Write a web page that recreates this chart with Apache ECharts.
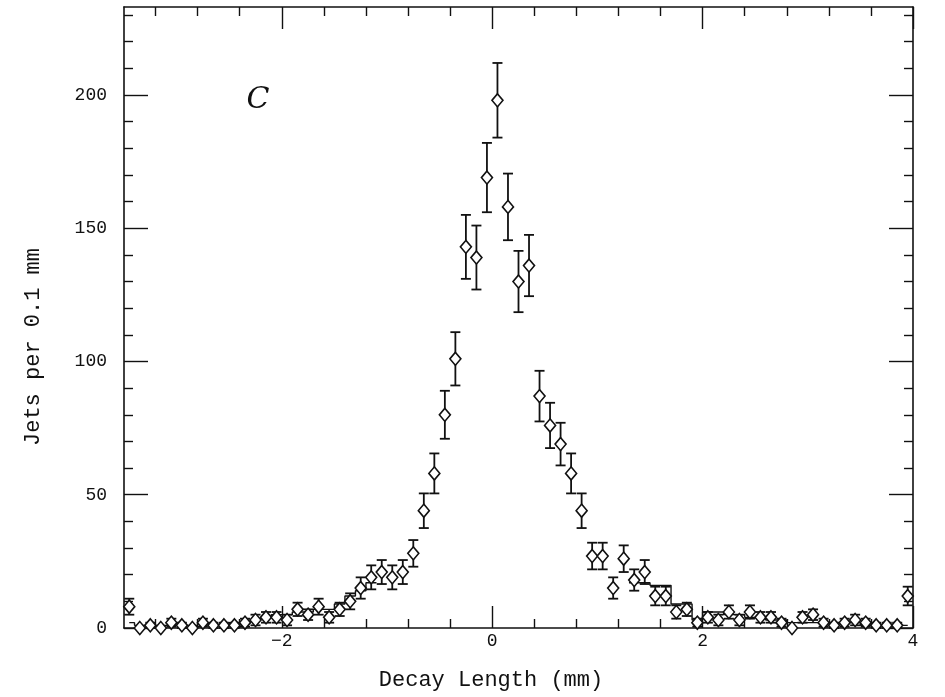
<!DOCTYPE html>
<html>
<head>
<meta charset="utf-8">
<script src="https://cdn.jsdelivr.net/npm/echarts@6/dist/echarts.min.js"></script>
<style>
html,body{margin:0;padding:0;background:#fff;}
#chart{width:945px;height:697px;}
</style>
</head>
<body>
<div id="chart"></div>
<script>
// Bin centres (mm)
const binCenters = [
 -3.45,-3.35,-3.25,-3.15,-3.05,-2.95,-2.85,-2.75,-2.65,-2.55,
 -2.45,-2.35,-2.25,-2.15,-2.05,-1.95,-1.85,-1.75,-1.65,-1.55,
 -1.45,-1.35,-1.25,-1.15,-1.05,-0.95,-0.85,-0.75,-0.65,-0.55,
 -0.45,-0.35,-0.25,-0.15,-0.05,0.05,0.15,0.25,0.35,0.45,
 0.55,0.65,0.75,0.85,0.95,1.05,1.15,1.25,1.35,1.45,
 1.55,1.65,1.75,1.85,1.95,2.05,2.15,2.25,2.35,2.45,
 2.55,2.65,2.75,2.85,2.95,3.05,3.15,3.25,3.35,3.45,
 3.55,3.65,3.75,3.85,3.95
];
// Jets per 0.1 mm (data points)
const jetCounts = [
 8,0,1,0,2,1,0,2,1,1,
 1,2,3,4,4,3,7,5,8,4,
 7,10,15,19,21,19,21,28,44,58,
 80,101,143,139,169,198,158,130,136,87,
 76,69,58,44,27,27,15,26,18,21,
 12,12,6,7,2,4,3,6,3,6,
 4,4,2,0,4,5,2,1,2,3,
 2,1,1,1,12
];
// Error bar half-lengths
const jetErrors = [
 3,0,1,0,1.5,1,0,1.5,1,1,
 1,1.5,2,2,2,2,2.5,2,3,2,
 2.5,3,4,4.5,4.5,4.5,4.5,5,6.5,7.5,
 9,10,12,12,13,14,12.5,11.5,11.5,9.5,
 8.5,8,7.5,6.5,5,5,4,5,4,4.5,
 3.5,3.5,2.5,2.5,1.5,2,2,2.5,2,2.5,
 2,2,1.5,0,2,2,1.5,1,1.5,2,
 1.5,1,1,1,3.5
];
// Histogram (step line) visible in the tails
const histValues = [
 2,1,1,1,1,1,1,2,1,1,
 2,2,3,4,5,5,6,6,7,7,
 9,12,14,17,null,null,null,null,null,null,
 null,null,null,null,null,null,null,null,null,null,
 null,null,null,null,null,null,null,null,17,17,
 16,16,9,9,3,6,6,5,5,4,
 4,3,3,2,2,2,2,2,2,2,
 1,1,1,1,1
];
// Axis ticks
const xMajorTicks = [-2, 0, 2, 4];
const xMinorTicks = [-3.2,-2.8,-2.4,-1.6,-1.2,-0.8,-0.4,0.4,0.8,1.2,1.6,2.4,2.8,3.2,3.6];
const yMajorTicks = [0, 50, 100, 150, 200];
const yMinorTicks = [10,20,30,40,60,70,80,90,110,120,130,140,160,170,180,190,210,220,230];

const X_MIN = -3.5, X_MAX = 4, Y_MIN = 0, Y_MAX = 233;
const FONT = 'Liberation Mono';
const INK = '#111';

const pointData = binCenters.map((x, i) => [x, jetCounts[i]]);
const errData = binCenters.map((x, i) => [x, jetCounts[i], jetErrors[i]]);
const histData = binCenters.map((x, i) => [x, histValues[i]]);

function xAxisDef(pos, major, showLabel) {
  return {
    type: 'value', position: pos, min: X_MIN, max: X_MAX,
    axisLine: { show: major, onZero: false, lineStyle: { color: INK, width: 1.6 } },
    axisTick: {
      show: true, inside: true, length: major ? 22 : 9,
      customValues: major ? xMajorTicks : xMinorTicks,
      lineStyle: { color: INK, width: 1.4 }
    },
    axisLabel: {
      show: showLabel, customValues: xMajorTicks, margin: 4,
      fontFamily: FONT, fontSize: 18, color: INK,
      formatter: v => (v < 0 ? '\u2212' + (-v) : String(v))
    },
    splitLine: { show: false }
  };
}
function yAxisDef(pos, major, showLabel) {
  return {
    type: 'value', position: pos, min: Y_MIN, max: Y_MAX,
    axisLine: { show: major, onZero: false, lineStyle: { color: INK, width: 1.6 } },
    axisTick: {
      show: true, inside: true, length: major ? 24 : 9,
      customValues: major ? yMajorTicks : yMinorTicks,
      lineStyle: { color: INK, width: 1.4 }
    },
    axisLabel: {
      show: showLabel, customValues: yMajorTicks, margin: 17,
      fontFamily: FONT, fontSize: 18, color: INK
    },
    splitLine: { show: false }
  };
}

const chart = echarts.init(document.getElementById('chart'), null, { renderer: 'canvas' });
chart.setOption({
  animation: false,
  backgroundColor: '#fff',
  grid: { left: 124, right: 32, top: 7, bottom: 69, containLabel: false, outerBoundsMode: 'none' },
  xAxis: [
    xAxisDef('bottom', true, true),
    xAxisDef('bottom', false, false),
    xAxisDef('top', true, false),
    xAxisDef('top', false, false)
  ],
  yAxis: [
    yAxisDef('left', true, true),
    yAxisDef('left', false, false),
    yAxisDef('right', true, false),
    yAxisDef('right', false, false)
  ],
  series: [
    {
      type: 'line', xAxisIndex: 0, yAxisIndex: 0,
      data: histData, step: 'middle', showSymbol: false, symbol: 'none',
      connectNulls: false,
      lineStyle: { color: INK, width: 1.4 }, z: 2
    },
    {
      type: 'custom', xAxisIndex: 0, yAxisIndex: 0,
      data: errData, z: 3,
      renderItem: function (params, api) {
        const x = api.value(0), y = api.value(1), e = api.value(2);
        if (!e) return null;
        const top = api.coord([x, y + e]);
        const bot = api.coord([x, Math.max(Y_MIN, y - e)]);
        const hw = 5;
        const st = { stroke: INK, lineWidth: 1.8 };
        return {
          type: 'group',
          children: [
            { type: 'line', shape: { x1: top[0], y1: top[1], x2: bot[0], y2: bot[1] }, style: st },
            { type: 'line', shape: { x1: top[0] - hw, y1: top[1], x2: top[0] + hw, y2: top[1] }, style: st },
            { type: 'line', shape: { x1: bot[0] - hw, y1: bot[1], x2: bot[0] + hw, y2: bot[1] }, style: st }
          ]
        };
      }
    },
    {
      type: 'scatter', xAxisIndex: 0, yAxisIndex: 0,
      data: pointData, symbol: 'diamond', symbolSize: [11, 13], z: 4,
      itemStyle: { color: '#fff', borderColor: INK, borderWidth: 1.6, opacity: 1 }
    }
  ],
  graphic: [
    {
      type: 'text', x: 33, y: 347, rotation: Math.PI / 2,
      style: { text: 'Jets per 0.1 mm', fontFamily: FONT, fontSize: 22, fill: INK,
               align: 'center', verticalAlign: 'middle' }
    },
    {
      type: 'text', x: 491, y: 680,
      style: { text: 'Decay Length (mm)', fontFamily: FONT, fontSize: 22, fill: INK,
               align: 'center', verticalAlign: 'middle' }
    },
    {
      type: 'text', x: 258, y: 100,
      style: { text: 'C', fontFamily: 'DejaVu Serif', fontStyle: 'italic', fontSize: 30,
               fill: INK, align: 'center', verticalAlign: 'middle' }
    }
  ]
});
</script>
</body>
</html>
